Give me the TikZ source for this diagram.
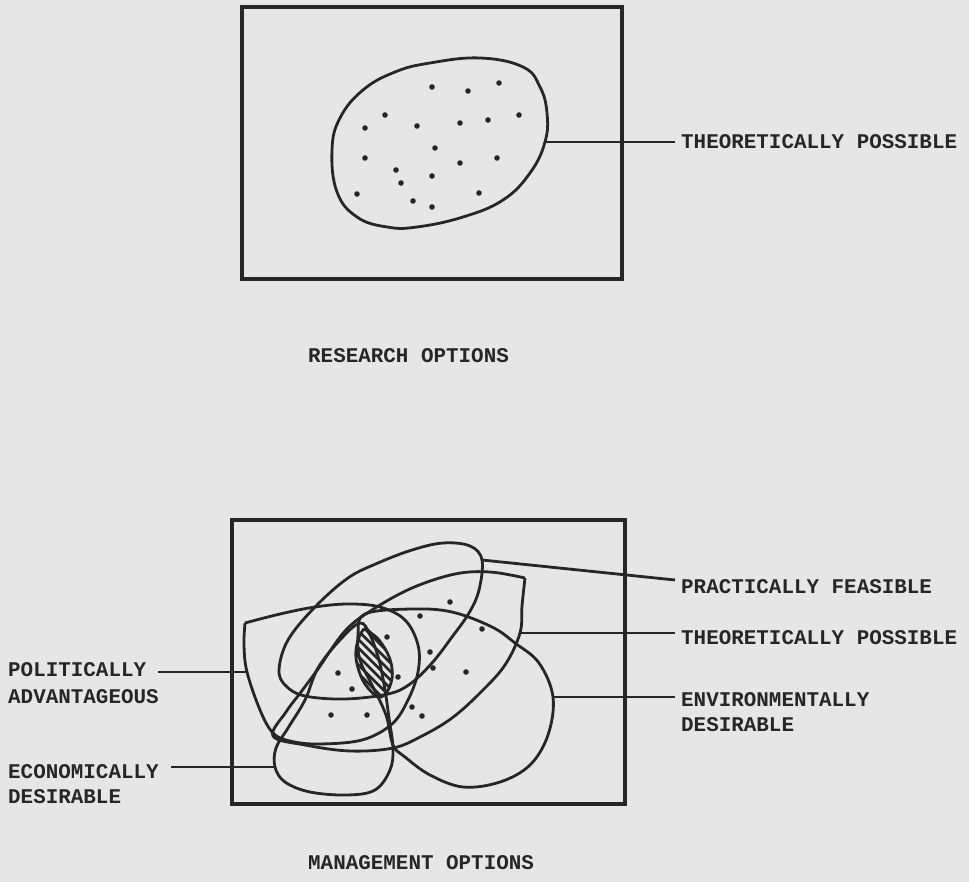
\documentclass[tikz,border=0pt]{standalone}
\usepackage{fontspec}
\newfontfamily\typew{Liberation Mono}
\definecolor{bgc}{HTML}{E6E6E6}
\definecolor{ink}{HTML}{262626}
\begin{document}
\begin{tikzpicture}[x=1pt,y=-1pt,
  frame/.style={draw=ink,line width=3.2pt},
  blob/.style={draw=ink,line width=2.8pt,line join=round},
  lead/.style={draw=ink,line width=2.8pt},
  lbl/.style={font=\typew\bfseries\fontsize{20.9}{25}\selectfont,text=ink,inner xsep=6pt,inner ysep=0pt,anchor=west},
  dotm/.style={fill=ink}]
\fill[bgc] (0,0) rectangle (969,882);
\useasboundingbox (0,0) rectangle (969,882);

% ---------- top diagram ----------
\draw[frame] (242,7) rectangle (622,279);
\draw[blob] plot[smooth cycle,tension=0.7] coordinates {(332,150) (340,118) (363,90) (395,72) (430,63) (480,58) (523,67) (540,87) (547,113) (545,142) (530,173) (503,200) (463,217) (417,227) (387,227) (357,217) (337,192)};
\foreach \p in {(432,87),(468,91),(499,83),(385,115),(417,126),(460,123),(488,120),(519,115),(365,128),(435,148),(365,158),(460,163),(497,158),(396,170),(432,176),(401,183),(357,194),(413,201),(432,207),(479,193)}
  \fill[dotm] \p circle (2.8pt);
\coordinate (tEdge) at (545,142);
\node[lbl] (tpLbl) at (675,142) {THEORETICALLY POSSIBLE};
\draw[lead] (tEdge) -- (tEdge -| tpLbl.west);
\node[lbl] (resLbl) at (302,356) {RESEARCH OPTIONS};

% ---------- bottom diagram ----------
\draw[frame] (232,520) rectangle (625,804);

% practically feasible
\draw[blob] plot[smooth cycle,tension=0.6] coordinates {(482,560) (479,590) (469,613) (452,637) (432,663) (410,684) (388,694) (345,699) (305,696) (286,686) (279,670) (288,640) (315,607) (348,578) (378,563) (412,550) (443,543) (470,546)};
% theoretically possible
\draw[blob] plot[smooth,tension=0.6] coordinates {(525,578) (522,606) (520,633) (505,665) (480,693) (452,718) (422,736) (393,748) (350,751) (305,745) (273,736) (286,712) (301,692) (318,669) (345,631) (372,610) (412,588) (455,574) (490,572) (525,578)};
% environmentally desirable
\draw[blob] plot[smooth cycle,tension=0.6] coordinates {(365,614) (412,609) (452,612) (492,627) (515,643) (539,663) (553,697) (548,735) (530,765) (500,782) (463,787) (430,775) (405,757) (393,745) (386,715) (372,685) (360,660) (358,635)};
% politically advantageous
\draw[blob] plot[smooth,tension=0.6] coordinates {(245,623) (280,614) (315,607) (348,604) (380,607) (405,620) (418,645) (418,672) (408,700) (392,724) (362,740) (318,744) (290,741) (273,733) (260,710) (247,672) (244,645) (245,623)};
% economically desirable
\draw[blob] plot[smooth cycle,tension=0.6] coordinates {(275,767) (285,782) (310,792) (347,795) (375,790) (390,770) (393,748) (389,718) (385,690) (379,660) (370,635) (360,623) (340,640) (318,668) (305,700) (288,728) (276,748)};

% hatched intersection
\begin{scope}
\clip plot[smooth cycle,tension=0.7] coordinates {(363,630) (356,650) (359,671) (368,688) (381,697) (391,683) (391,663) (382,644) (371,633)};
\foreach \k in {-4,...,14}
  \draw[ink,line width=2.6pt] (330,560+\k*8.5) -- ++(90,90);
\end{scope}
\draw[blob] plot[smooth cycle,tension=0.7] coordinates {(363,630) (356,650) (359,671) (368,688) (381,697) (391,683) (391,663) (382,644) (371,633)};

\foreach \p in {(450,602),(420,616),(387,637),(430,652),(433,668),(466,672),(482,629),(338,673),(352,689),(398,677),(331,715),(367,715),(412,707),(422,716)}
  \fill[dotm] \p circle (2.8pt);

% labels and leaders
\coordinate (pTip) at (482,560);
\coordinate (bEdge) at (520,633);
\coordinate (cEdge) at (553,697);
\coordinate (dEdge) at (247,672);
\coordinate (eEdge) at (275,767);

\node[lbl] (pfLbl) at (675,587) {PRACTICALLY FEASIBLE};
\node[lbl] (tp2Lbl) at (675,638) {THEORETICALLY POSSIBLE};
\node[lbl] (envA) at (675,700) {ENVIRONMENTALLY};
\node[lbl] (envB) at (675,725) {DESIRABLE};
\node[lbl] (polA) at (2,670) {POLITICALLY};
\node[lbl] (polB) at (2,697) {ADVANTAGEOUS};
\node[lbl] (ecoA) at (2,772) {ECONOMICALLY};
\node[lbl] (ecoB) at (2,797) {DESIRABLE};
\node[lbl] (mgmtLbl) at (302,863) {MANAGEMENT OPTIONS};

\draw[lead] (pTip) -- ([yshift=7pt]pfLbl.west);
\draw[lead] (bEdge) -- (bEdge -| tp2Lbl.west);
\draw[lead] (cEdge) -- (cEdge -| envA.west);
\draw[lead] (polA.east |- dEdge) ++(6,0) -- (dEdge);
\draw[lead] (ecoA.east |- eEdge) ++(6,0) -- (eEdge);
\end{tikzpicture}
\end{document}
